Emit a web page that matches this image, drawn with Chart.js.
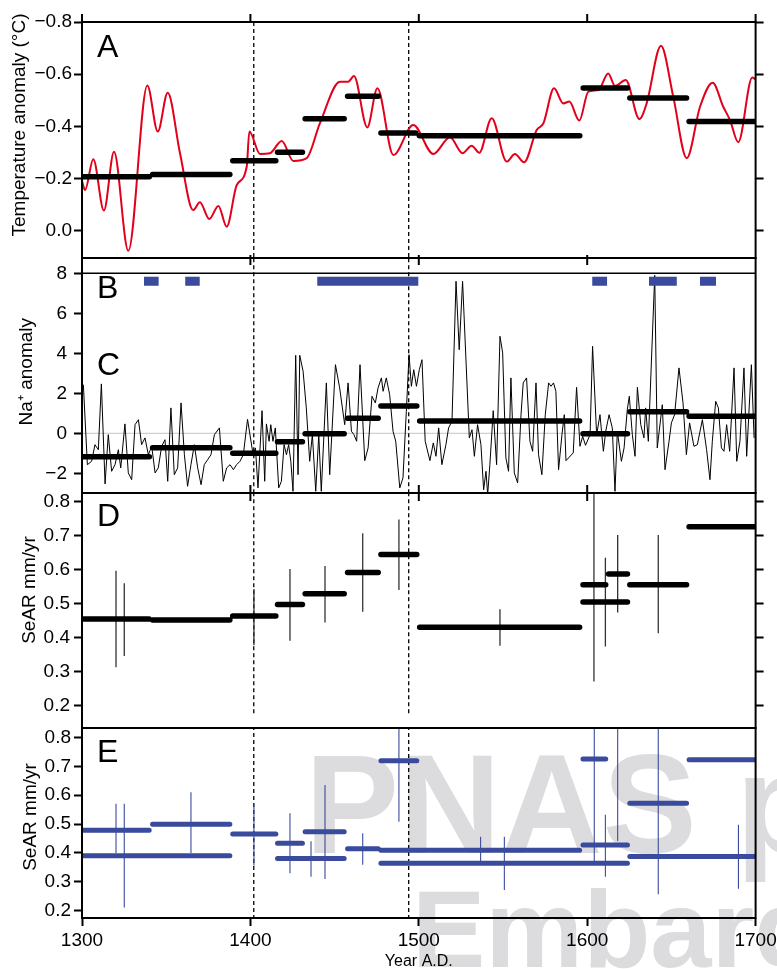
<!DOCTYPE html>
<html>
<head>
<meta charset="utf-8">
<script src="https://cdn.jsdelivr.net/npm/chart.js@4.4.1/dist/chart.umd.min.js"></script>
<style>
  html, body { margin: 0; padding: 0; background: #fff; }
  #wrap { position: relative; width: 777px; height: 969px; overflow: hidden; }
  canvas { position: absolute; left: 0; }
  .wm { position: absolute; font-family: "Liberation Sans", Arial, sans-serif; font-weight: bold;
        color: #dcdcde; white-space: nowrap; line-height: 1; }
</style>
</head>
<body>
<div id="wrap">
  <div class="wm" style="left:305px; top:734px; font-size:141px;">PNAS proof</div>
  <div class="wm" style="left:412px; top:874px; font-size:110px;">Embargoed</div>
  <canvas id="cA" width="777" height="280" style="top:0px"></canvas>
  <canvas id="cC" width="777" height="275" style="top:238px"></canvas>
  <canvas id="cD" width="777" height="275" style="top:473px"></canvas>
  <canvas id="cE" width="777" height="261" style="top:708px"></canvas>
</div>
<script>
// ---- data ----
const xTicks = [1300, 1400, 1500, 1600, 1700];
const aTicks = [-0.8, -0.6, -0.4, -0.2, 0.0];
const cTicks = [-2, 0, 2, 4, 6, 8];
const dTicks = [0.2, 0.3, 0.4, 0.5, 0.6, 0.7, 0.8];
const eTicks = [0.2, 0.3, 0.4, 0.5, 0.6, 0.7, 0.8];
const dashYears = [1402, 1494];

// A: temperature anomaly (red curve)
const tempYear = [1300, 1301.8, 1306.7, 1313, 1319, 1327.5, 1338.8, 1345, 1350.9, 1358.2,
  1366, 1370, 1375.6, 1381, 1385.9, 1391.9, 1397.8, 1399.4, 1405.7, 1411.6,
  1418.6, 1425.5, 1433.4, 1441.3, 1453.2, 1458.1, 1461.5, 1469.4, 1475.4, 1484.9,
  1496.7, 1508.6, 1518.5, 1526, 1531.4, 1535.9, 1543.3, 1552.2, 1557.1, 1562.5,
  1570, 1574, 1580.3, 1585.8, 1589.4, 1595.3, 1600.7, 1606.6, 1612.5, 1616.5,
  1622.9, 1631, 1635.3, 1643.8, 1651.1, 1659.1, 1667, 1674.5, 1680.8, 1684.8,
  1689.7, 1698, 1700];
const tempVal = [-0.19, -0.156, -0.274, -0.077, -0.303, 0.077, -0.557, -0.38, -0.529, -0.297,
  -0.079, -0.109, -0.045, -0.095, -0.015, -0.175, -0.245, -0.38, -0.294, -0.297,
  -0.344, -0.267, -0.278, -0.412, -0.571, -0.571, -0.593, -0.396, -0.546, -0.29,
  -0.405, -0.294, -0.358, -0.297, -0.326, -0.299, -0.431, -0.265, -0.294, -0.262,
  -0.386, -0.412, -0.546, -0.488, -0.495, -0.422, -0.533, -0.539, -0.603, -0.555,
  -0.578, -0.428, -0.488, -0.709, -0.514, -0.278, -0.475, -0.567, -0.475, -0.424,
  -0.339, -0.587, -0.58];
const aStart = [1300, 1341.9, 1389.5, 1416.1, 1432.5, 1457.7, 1477.5, 1500.3, 1597.6, 1625.3, 1660.5];
const aEnd   = [1340, 1387.8, 1415.1, 1430.9, 1455.7, 1475.9, 1498.2, 1595.6, 1623.9, 1659, 1700];
const aVal   = [-0.207, -0.215, -0.268, -0.301, -0.429, -0.515, -0.375, -0.364, -0.547, -0.509, -0.419];

// B: periods (blue blocks)
const bStart = [1336.8, 1361.3, 1439.7, 1603, 1636.7, 1667];
const bEnd   = [1345.5, 1369.9, 1499.7, 1611.8, 1653.2, 1676.5];

// C: Na+ anomaly
const naYear = [1300.8, 1303.2, 1305.7, 1307.7, 1309.7, 1311.5, 1313.7, 1315.6, 1317.6, 1319.6,
  1321.6, 1323, 1325.5, 1327.5, 1329.5, 1331.5, 1333.5, 1335.4, 1337.4, 1339.4,
  1341.4, 1343.4, 1345.3, 1347.3, 1349.3, 1350.9, 1352.8, 1354.8, 1356.8, 1358.8,
  1360.8, 1362.7, 1364.7, 1366.7, 1368.7, 1370.7, 1372.6, 1374.6, 1376.6, 1378.6,
  1381.6, 1383.9, 1385.9, 1387.9, 1389.9, 1391.8, 1393.8, 1395.8, 1398.3, 1401.6,
  1403, 1404.5, 1406.9, 1408.5, 1409.5, 1411.1, 1412.1, 1413.4, 1414.8, 1416.8,
  1418.4, 1420, 1421.4, 1422.7, 1424, 1425.3, 1426.9, 1428.3, 1429.3, 1431.3,
  1433.2, 1435.2, 1436.8, 1438.8, 1440.6, 1442.1, 1445.1, 1447.1, 1450.5, 1453,
  1456, 1458, 1460, 1461.5, 1463.1, 1465.1, 1467.9, 1469.9, 1472.2, 1474.2,
  1475.8, 1477.8, 1478.8, 1480.7, 1482.7, 1484.7, 1486.3, 1488.7, 1490.6, 1492.6,
  1494.2, 1495.6, 1497, 1498.6, 1500.3, 1501.9, 1503.8, 1506.6, 1508.6, 1510.2,
  1511.8, 1513.7, 1516.1, 1517.7, 1519.7, 1522.1, 1524, 1526, 1530, 1531.6,
  1533, 1534.9, 1536.9, 1538.5, 1539.9, 1540.9, 1542.2, 1544.2, 1546.2, 1548.2,
  1549.8, 1551.7, 1553.3, 1554.7, 1556.7, 1558.7, 1560.7, 1562, 1564, 1566,
  1567.6, 1569.6, 1571.1, 1573.1, 1575.1, 1577.1, 1578.5, 1580, 1581.4, 1583,
  1585, 1586.4, 1587.4, 1591.7, 1593.7, 1595.7, 1597.3, 1599, 1601.7, 1603.2,
  1605.6, 1607.6, 1609.6, 1611, 1613, 1614.9, 1616.5, 1617.9, 1620.3, 1621.9,
  1623.8, 1625, 1626.8, 1628.4, 1629.8, 1631.8, 1633.7, 1634.7, 1636.3, 1640.1,
  1641.6, 1644.6, 1646.2, 1648.6, 1650, 1651.9, 1654.5, 1656.9, 1658.9, 1660.8,
  1663.4, 1665.4, 1668.4, 1670.9, 1672.9, 1674.3, 1676.3, 1677.9, 1679.7, 1681.2,
  1682.8, 1684.6, 1687.2, 1688.8, 1690.7, 1693.1, 1694.7, 1697.5, 1699.1];
const naVal = [2.43, -1.57, -1.4, -0.57, -0.82, 2.47, -2.53, -0.07, -1.9, -1.57,
  -0.82, -1.73, 0.47, -1.98, -2.32, 0.43, 0.68, -0.57, -0.23, -1.07,
  -0.65, -1.98, -1.73, -0.65, -0.32, -2.4, 1.27, -2.07, -1.73, 1.52,
  -1.07, -2.65, -1.57, -0.57, -1.73, -2.57, -1.57, -1.32, -1.07, -0.07,
  0.27, -2.4, -1.73, -1.57, -1.82, -1.57, -1.4, -1.07, 0.7, -1.07,
  -0.73, -2.73, 1.13, -2.4, 0.47, -0.4, 0.43, -0.4, 0.27, -2.73,
  -2.4, -0.57, -1.07, -0.57, -1.4, -2.9, 3.9, -2.07, 3.9, 3.1,
  1.27, -1.4, -0.07, -2.9, -0.07, -2.9, 2.52, -2.07, 3.43, 2.27,
  0.43, 2.52, 0.1, -0.07, -0.4, 3.43, -1.37, -0.73, 1.85, 1.52,
  2.27, 2.77, 2.1, 2.77, 1.93, 0.1, -0.4, -2.73, -2.23, 1.1,
  3.93, 2.35, 3.18, 2.35, 3.18, 3.68, -0.4, -1.37, -0.48, -1.15,
  0.27, -1.57, -0.57, 0.27, 0.6, 7.6, 4.18, 7.6, -0.23, 0.18,
  -1.15, 0.43, -0.57, -2.82, -1.9, -3.07, -1.57, 1.13, -1.57, 4.85,
  4.02, -1.23, -1.9, 2.77, -1.98, -2.48, 0.93, 2.52, 2.77, -0.4,
  -0.9, 2.52, -1.07, -2.07, 0.93, 2.52, 2.35, 2.52, 2.1, -1.82,
  -0.07, 0.93, -1.37, -0.98, 2.3, -0.65, -0.15, -0.6, -0.07, 4.35,
  -0.07, 0.93, -0.9, 0.1, 0.93, 0.27, -2.9, 0.1, -1.4, -0.73,
  1.18, 1.85, -0.07, -1.15, 2.3, 0.43, -0.23, 1.27, -0.4, 7.9,
  -0.73, 1.43, -1.82, -0.4, 0.52, 0.93, 3.27, 1.52, -1.07, 0.52,
  -0.65, -0.57, 0.68, -0.82, -2.32, -0.4, 1.6, 1.27, -0.73, -0.9,
  0.43, -0.9, 3.27, -1.4, -0.4, 3.27, -1.15, 3.43, -0.23];
const cStart = [1300, 1341.9, 1389.5, 1416.1, 1432.5, 1457.7, 1477.5, 1500.5, 1597.5, 1625.3, 1660.5];
const cEnd   = [1340, 1387.8, 1415.1, 1430.9, 1455.7, 1475.9, 1498.8, 1595.5, 1623.9, 1659, 1700];
const cVal   = [-1.17, -0.72, -1.0, -0.42, -0.02, 0.75, 1.37, 0.62, -0.02, 1.08, 0.85];

// D: SeAR (black)
const dStart = [1300, 1341.9, 1389.5, 1416.1, 1432.5, 1457.7, 1477.5, 1500.5, 1597.5, 1597.5, 1612.7, 1625.3, 1660.5];
const dEnd   = [1339.9, 1387.8, 1415.1, 1430.9, 1455.7, 1475.9, 1498.8, 1595.5, 1611, 1623.9, 1623.9, 1659, 1700];
const dVal   = [0.455, 0.452, 0.464, 0.498, 0.529, 0.592, 0.645, 0.431, 0.556, 0.505, 0.587, 0.556, 0.726];
const dErrYear = [1320.2, 1325.1, 1402.1, 1423.5, 1444.3, 1466.7, 1488.2, 1548.2, 1604, 1610.8, 1618.1, 1642.2];
const dErrLo   = [0.313, 0.346, 0.378, 0.391, 0.445, 0.476, 0.54, 0.376, 0.271, 0.374, 0.474, 0.413];
const dErrHi   = [0.597, 0.56, 0.543, 0.602, 0.611, 0.707, 0.748, 0.484, 0.9, 0.635, 0.702, 0.702];

// E: SeAR (blue)
const eStart = [1300, 1300, 1341.9, 1389.5, 1416.1, 1416.1, 1432.5, 1457.7, 1477.5, 1477.5, 1477.5, 1597.5, 1597.5, 1625.3, 1625.3, 1660.5];
const eEnd   = [1339.9, 1387.8, 1387.8, 1415.1, 1430.9, 1455.7, 1455.7, 1475.9, 1595.5, 1623.9, 1498.8, 1611, 1623.9, 1659, 1700, 1700];
const eVal   = [0.478, 0.39, 0.499, 0.465, 0.433, 0.38, 0.473, 0.414, 0.409, 0.364, 0.72, 0.726, 0.427, 0.572, 0.387, 0.723];
const eErrYear = [1320.2, 1325.1, 1364.7, 1402.1, 1423.5, 1436, 1444.3, 1466.7, 1488.2, 1536.7, 1550.8, 1604.2, 1610.8, 1618.1, 1642.2, 1689.8];
const eErrLo   = [0.399, 0.21, 0.399, 0.356, 0.329, 0.317, 0.309, 0.358, 0.508, 0.369, 0.271, 0.369, 0.317, 0.441, 0.256, 0.275];
const eErrHi   = [0.57, 0.57, 0.61, 0.57, 0.537, 0.44, 0.636, 0.468, 0.9, 0.456, 0.456, 0.9, 0.532, 0.9, 0.9, 0.497];

// ---- helpers ----
const FONT = '"Liberation Sans", Arial, Helvetica, sans-serif';
const RED = '#e2001a';
const BLUE = '#3a4a9c';
Chart.defaults.font.family = FONT;

function pts(xs, ys) {
  return xs.map((x, i) => ({ x: x, y: ys[i] }));
}
// horizontal pieces, broken with null points
function hsegs(starts, ends, vals) {
  const out = [];
  starts.forEach((s, i) => {
    out.push({ x: s, y: vals[i] }, { x: ends[i], y: vals[i] }, { x: ends[i], y: null });
  });
  return out;
}
// vertical pieces (error bars, dashed markers)
function vsegs(xs, lo, hi) {
  const out = [];
  xs.forEach((x, i) => {
    const l = Array.isArray(lo) ? lo[i] : lo;
    const h = Array.isArray(hi) ? hi[i] : hi;
    out.push({ x: x, y: l }, { x: x, y: h }, { x: x, y: null });
  });
  return out;
}
function lineDs(data, color, width, extra) {
  return Object.assign({
    data: data, borderColor: color, borderWidth: width, pointRadius: 0,
    fill: false, tension: 0, spanGaps: false
  }, extra || {});
}
function setTicks(arr) {
  return (scale) => { scale.ticks = arr.map((v) => ({ value: v })); };
}

function xHidden() {
  return { type: 'linear', min: 1300, max: 1700, display: false };
}
function yLeft(min, max, ticks, fmt, tickPad, reverse) {
  return {
    type: 'linear', position: 'left', min: min, max: max, reverse: !!reverse,
    afterBuildTicks: setTicks(ticks),
    afterFit: (s) => { s.width = 82; },
    grid: { drawOnChartArea: false, drawTicks: true, tickLength: 8, tickWidth: 2, tickColor: '#000' },
    border: { display: false },
    ticks: { color: '#000', font: { size: 19 }, padding: tickPad, callback: fmt }
  };
}
function yRight(min, max, ticks, reverse) {
  return {
    type: 'linear', position: 'right', min: min, max: max, reverse: !!reverse,
    afterBuildTicks: setTicks(ticks),
    afterFit: (s) => { s.width = 21.4; },
    grid: { drawOnChartArea: false, drawTicks: true, tickLength: 8, tickWidth: 2, tickColor: '#000' },
    border: { display: false },
    ticks: { display: false }
  };
}

const fmtA = (v) => (Math.abs(v) < 1e-9 ? '0.0' : v.toFixed(1).replace('-', '\u2212'));
const fmtC = (v) => (v < 0 ? '\u2212' + Math.abs(v) : String(v));
const fmtD = (v) => v.toFixed(1);

// frame, edge ticks, y titles and panel letters
const framePlugin = {
  id: 'frame',
  afterDraw(chart, args, opts) {
    const { ctx, chartArea: a } = chart;
    const xs = chart.scales.x;
    ctx.save();
    ctx.strokeStyle = '#000';
    ctx.lineWidth = 2;
    ctx.strokeRect(a.left, a.top, a.right - a.left, a.bottom - a.top);
    (opts.edges || []).forEach((e) => {
      const y0 = e.edge === 'top' ? a.top : a.bottom;
      e.values.forEach((v) => {
        const px = xs.getPixelForValue(v);
        ctx.beginPath();
        ctx.moveTo(px, y0 - e.up);
        ctx.lineTo(px, y0 + e.down);
        ctx.stroke();
      });
    });
    ctx.fillStyle = '#000';
    if (opts.ytitle) {
      const t = opts.ytitle;
      ctx.save();
      ctx.translate(t.x, a.top + t.dy);
      ctx.rotate(-Math.PI / 2);
      ctx.font = '19px ' + FONT;
      ctx.textAlign = 'center';
      ctx.textBaseline = 'middle';
      ctx.fillText(t.text, 0, 0);
      ctx.restore();
    }
    ctx.textBaseline = 'alphabetic';
    ctx.font = '32px ' + FONT;
    (opts.letters || []).forEach((l) => {
      ctx.fillText(l.text, a.left + l.dx, a.top + l.dy);
    });
    ctx.restore();
  }
};

function baseOptions(scales, padding, frame) {
  return {
    responsive: false, animation: false, devicePixelRatio: 1,
    layout: { padding: padding },
    events: [],
    plugins: { legend: { display: false }, tooltip: { enabled: false }, frame: frame },
    scales: scales
  };
}

// ---- panel A ----
new Chart(document.getElementById('cA'), {
  type: 'line',
  data: {
    datasets: [
      lineDs(hsegs(aStart, aEnd, aVal), '#000', 5.5, { borderCapStyle: 'round', order: 0 }),
      lineDs(pts(tempYear, tempVal), RED, 2, { cubicInterpolationMode: 'monotone', order: 1 }),
      lineDs(vsegs(dashYears, -0.8, 0.105), '#000', 1.3, { borderDash: [4, 3], order: 2 })
    ]
  },
  options: baseOptions({
    x: xHidden(),
    y: yLeft(-0.8, 0.1046, aTicks, fmtA, 2, true),
    yR: yRight(-0.8, 0.1046, aTicks, true)
  }, { top: 22, bottom: 22, left: 0, right: 0 }, {
    edges: [
      { edge: 'top', values: xTicks, up: 8, down: 0 },
      { edge: 'bottom', values: [1400, 1500, 1600], up: 3, down: 7 }
    ],
    ytitle: { text: 'Temperature anomaly (\u00B0C)', x: 19.5, dy: 103 },
    letters: [{ text: 'A', dx: 15, dy: 35 }]
  }),
  plugins: [framePlugin]
});

// ---- panels B and C ----
const bLevel = 7.6;
new Chart(document.getElementById('cC'), {
  type: 'line',
  data: {
    datasets: [
      lineDs(hsegs(cStart, cEnd, cVal), '#000', 5.5, { borderCapStyle: 'round', order: 0 }),
      lineDs(hsegs(bStart, bEnd, bStart.map(() => bLevel)), BLUE, 9, { borderCapStyle: 'butt', order: 1 }),
      lineDs(pts(naYear, naVal), '#000', 1, { order: 2 }),
      lineDs(vsegs(dashYears, -3, 8.8), '#000', 1.3, { borderDash: [4, 3], order: 3 }),
      lineDs(pts([1300, 1700], [0, 0]), '#c4c4c4', 1, { order: 4 }),
      lineDs(pts([1300, 1700], [8, 8]), '#000', 1.6, { order: 5 })
    ]
  },
  options: baseOptions({
    x: xHidden(),
    y: yLeft(-2.985, 8.765, cTicks, fmtC, 7, false)
  }, { top: 20, bottom: 20, left: 0, right: 21.4 }, {
    edges: [{ edge: 'bottom', values: [1400, 1500, 1600], up: 8, down: 8 }],
    ytitle: { text: 'Na\u207A anomaly', x: 26.5, dy: 113.7 },
    letters: [{ text: 'B', dx: 15, dy: 40 }, { text: 'C', dx: 15, dy: 117 }]
  }),
  plugins: [framePlugin]
});

// ---- panel D ----
new Chart(document.getElementById('cD'), {
  type: 'line',
  data: {
    datasets: [
      lineDs(hsegs(dStart, dEnd, dVal), '#000', 5.5, { borderCapStyle: 'round', order: 0 }),
      lineDs(vsegs(dErrYear, dErrLo, dErrHi), '#333', 1.3, { order: 1 }),
      lineDs(vsegs(dashYears, 0.178, 0.9), '#000', 1.3, { borderDash: [4, 3], order: 2 })
    ]
  },
  options: baseOptions({
    x: xHidden(),
    y: yLeft(0.1344, 0.8256, dTicks, fmtD, 4, false),
    yR: yRight(0.1344, 0.8256, dTicks, false)
  }, { top: 20, bottom: 20, left: 0, right: 0 }, {
    edges: [],
    ytitle: { text: 'SeAR mm/yr', x: 29.5, dy: 97 },
    letters: [{ text: 'D', dx: 15, dy: 33 }]
  }),
  plugins: [framePlugin]
});

// ---- panel E ----
new Chart(document.getElementById('cE'), {
  type: 'line',
  data: {
    datasets: [
      lineDs(hsegs(eStart, eEnd, eVal), BLUE, 5, { borderCapStyle: 'round', order: 0 }),
      lineDs(vsegs(eErrYear, eErrLo, eErrHi), BLUE, 1.1, { order: 1 }),
      lineDs(vsegs(dashYears, 0.17, 0.9), '#000', 1.3, { borderDash: [4, 3], order: 2 })
    ]
  },
  options: baseOptions({
    x: {
      type: 'linear', position: 'bottom', min: 1300, max: 1700,
      afterBuildTicks: setTicks(xTicks),
      afterFit: (s) => { s.height = 51; s.paddingLeft = 0; s.paddingRight = 0; },
      grid: { drawOnChartArea: false, drawTicks: true, tickLength: 8, tickWidth: 2, tickColor: '#000' },
      border: { display: false },
      ticks: { color: '#000', font: { size: 19 }, padding: 3, maxRotation: 0, autoSkip: false,
               callback: (v) => String(v) },
      title: { display: true, text: 'Year A.D.', color: '#000', font: { size: 16 }, padding: { top: 0, bottom: -2 } }
    },
    y: yLeft(0.1733, 0.8337, eTicks, fmtD, 3, false)
  }, { top: 20, bottom: 0, left: 0, right: 21.4 }, {
    edges: [],
    ytitle: { text: 'SeAR mm/yr', x: 31, dy: 89 },
    letters: [{ text: 'E', dx: 15, dy: 34 }]
  }),
  plugins: [framePlugin]
});
</script>
</body>
</html>
